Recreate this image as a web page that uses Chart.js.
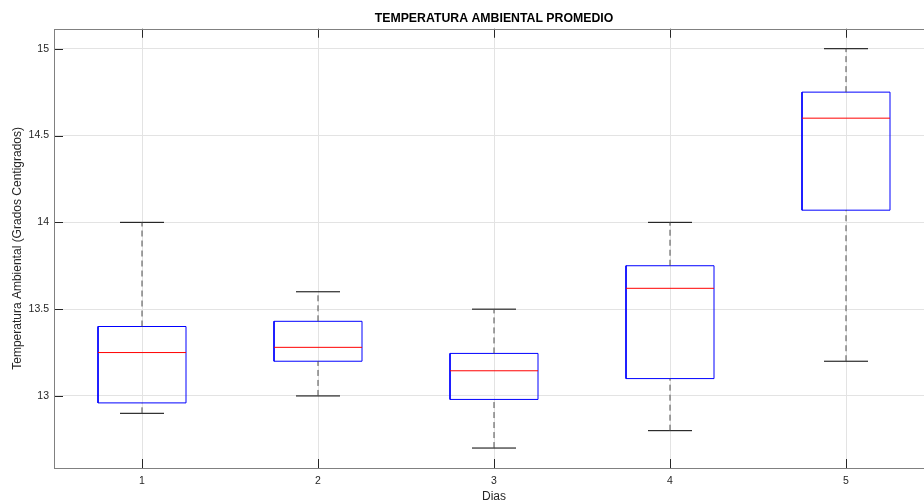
<!DOCTYPE html>
<html>
<head>
<meta charset="utf-8">
<script src="https://cdn.jsdelivr.net/npm/chart.js@4"></script>
<style>
  html, body { margin: 0; padding: 0; background: #fff; overflow: hidden; }
  #wrap { width: 944px; height: 502px; }
</style>
</head>
<body>
<div id="wrap"><canvas id="BoxChart" width="944" height="502"></canvas></div>
<script>
// values
const days = [1, 2, 3, 4, 5];
const whiskerLow = [12.9, 13.0, 12.7, 12.8, 13.2];
const q1 = [12.96, 13.2, 12.98, 13.1, 14.07];
const medians = [13.25, 13.28, 13.145, 13.62, 14.6];
const q3 = [13.4, 13.43, 13.245, 13.75, 14.75];
const whiskerHigh = [14.0, 13.6, 13.5, 14.0, 15.0];
const yTicks = [13, 13.5, 14, 14.5, 15];

const BOX_HALF = 0.25;
const CAP_HALF = 0.125;

// turn [x1, y1, x2, y2] pieces into one line dataset with gaps
function segments(list) {
  const out = [];
  list.forEach(s => {
    out.push({ x: s[0], y: s[1] }, { x: s[2], y: s[3] }, { x: s[0], y: null });
  });
  return out;
}

// box outline as a closed path per day
const boxSegs = [];
days.forEach((d, i) => {
  boxSegs.push(
    { x: d - BOX_HALF, y: q1[i] },
    { x: d + BOX_HALF, y: q1[i] },
    { x: d + BOX_HALF, y: q3[i] },
    { x: d - BOX_HALF, y: q3[i] },
    { x: d - BOX_HALF, y: q1[i] },
    { x: d, y: null }
  );
});

const medianSegs = segments(days.map((d, i) => [d - BOX_HALF, medians[i], d + BOX_HALF, medians[i]]));
const whiskerSegs = segments(days.flatMap((d, i) => [
  [d, q3[i], d, whiskerHigh[i]],
  [d, whiskerLow[i], d, q1[i]]
]));
const capSegs = segments(days.flatMap((d, i) => [
  [d - CAP_HALF, whiskerHigh[i], d + CAP_HALF, whiskerHigh[i]],
  [d - CAP_HALF, whiskerLow[i], d + CAP_HALF, whiskerLow[i]]
]));

// matlab style frame and inward ticks
const framePlugin = {
  id: "frame",
  afterDraw(chart) {
    const { ctx, chartArea: a, scales: { x, y } } = chart;
    ctx.save();
    ctx.lineWidth = 1;
    ctx.strokeStyle = "#262626";
    ctx.beginPath();
    x.ticks.forEach(t => {
      const px = Math.round(x.getPixelForValue(t.value)) + 0.5;
      ctx.moveTo(px, a.bottom); ctx.lineTo(px, a.bottom - 9);
      ctx.moveTo(px, a.top); ctx.lineTo(px, a.top + 9);
    });
    y.ticks.forEach(t => {
      const py = Math.round(y.getPixelForValue(t.value)) + 0.5;
      ctx.moveTo(a.left, py); ctx.lineTo(a.left + 9, py);
      ctx.moveTo(a.right, py); ctx.lineTo(a.right - 9, py);
    });
    ctx.stroke();
    ctx.strokeStyle = "#808080";
    ctx.strokeRect(Math.round(a.left) + 0.5, Math.round(a.top) + 0.5,
      Math.round(a.right - a.left), Math.round(a.bottom - a.top));
    ctx.restore();
  }
};

const tickFont = { family: "'Liberation Sans', Arial, sans-serif", size: 10.5 };
const labelFont = { family: "'Liberation Sans', Arial, sans-serif", size: 12 };

new Chart(document.getElementById("BoxChart").getContext("2d"), {
  type: "line",
  data: {
    datasets: [
      {
        label: "Caja",
        data: boxSegs,
        borderColor: "#0000ff",
        borderWidth: 1,
        pointRadius: 0,
        spanGaps: false,
        order: 3
      },
      {
        label: "Bigotes",
        data: whiskerSegs,
        borderColor: "#4d4d4d",
        borderWidth: 1,
        borderDash: [6, 4],
        pointRadius: 0,
        spanGaps: false,
        order: 2
      },
      {
        label: "Topes",
        data: capSegs,
        borderColor: "#000000",
        borderWidth: 1,
        pointRadius: 0,
        spanGaps: false,
        order: 2
      },
      {
        label: "Mediana",
        data: medianSegs,
        borderColor: "#ff0000",
        borderWidth: 1,
        pointRadius: 0,
        spanGaps: false,
        order: 1
      }
    ]
  },
  options: {
    responsive: false,
    animation: false,
    layout: { padding: { left: 0, right: 10, top: 0, bottom: 0 } },
    plugins: {
      legend: { display: false },
      tooltip: { enabled: false },
      title: {
        display: true,
        text: "TEMPERATURA AMBIENTAL PROMEDIO",
        fullSize: false,
        color: "#000000",
        font: { family: "'Liberation Sans', Arial, sans-serif", size: 12.3, weight: "bold" },
        padding: { top: 11, bottom: 3 }
      }
    },
    scales: {
      x: {
        type: "linear",
        min: 0.5,
        max: 5.5,
        afterBuildTicks: scale => { scale.ticks = days.map(v => ({ value: v })); },
        afterFit: scale => { scale.height = 34; },
        grid: { color: "#e3e3e3", drawTicks: false },
        border: { display: false },
        ticks: { color: "#262626", font: tickFont, padding: 7, callback: v => String(v) },
        title: {
          display: true,
          text: "Dias",
          color: "#262626",
          font: labelFont,
          padding: { top: 0, bottom: -2 }
        }
      },
      y: {
        type: "linear",
        min: 12.585,
        max: 15.115,
        afterBuildTicks: scale => { scale.ticks = yTicks.map(v => ({ value: v })); },
        afterFit: scale => { scale.width = 54; },
        grid: { color: "#e3e3e3", drawTicks: false },
        border: { display: false },
        ticks: { color: "#262626", font: tickFont, padding: 5, callback: v => String(v) },
        title: {
          display: true,
          text: "Temperatura Ambiental (Grados Centigrados)",
          color: "#262626",
          font: labelFont,
          padding: { top: 10, bottom: 0 }
        }
      }
    }
  },
  plugins: [framePlugin]
});
</script>
</body>
</html>
